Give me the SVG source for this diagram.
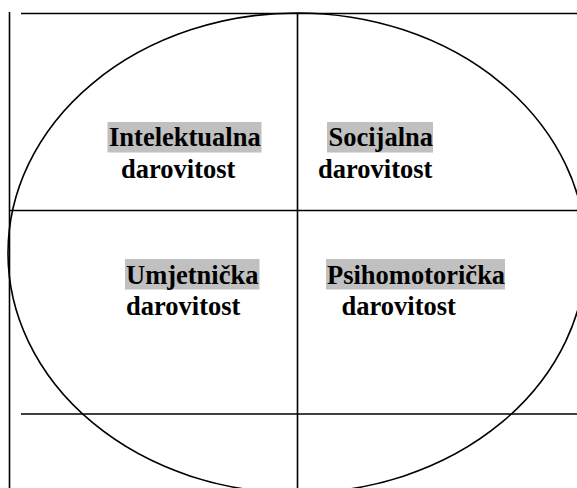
<svg xmlns="http://www.w3.org/2000/svg" width="577" height="488" viewBox="0 0 577 488">
<style>
.ln{stroke:#000;stroke-width:1.6;fill:none}
.hl{fill:#c0c0c0}
.t{font-family:"Liberation Serif","Times New Roman",serif;font-weight:bold;font-size:26.5px;fill:#000}
</style>
<rect width="577" height="488" fill="#fff"/>
<g id="connectors">
<line class="ln" x1="9.5" y1="12" x2="9.5" y2="488"/>
<line class="ln" x1="21" y1="13.5" x2="577" y2="13.5"/>
<line class="ln" x1="297.5" y1="13" x2="297.5" y2="488"/>
<line class="ln" x1="9" y1="210.5" x2="577" y2="210.5"/>
<line class="ln" x1="21" y1="414" x2="577" y2="414"/>
<ellipse class="ln" cx="297" cy="253" rx="289" ry="240"/>
</g>
<g id="intelektualna">
<rect class="hl" x="107.5" y="122" width="154" height="30.5"/>
<text class="t" x="109" y="146">Intelektualna</text>
<text class="t" x="121" y="177.5">darovitost</text>
</g>
<g id="socijalna">
<rect class="hl" x="327" y="122" width="106" height="30.5"/>
<text class="t" x="328.5" y="146">Socijalna</text>
<text class="t" x="318" y="177.5">darovitost</text>
</g>
<g id="umjetnicka">
<rect class="hl" x="125" y="259" width="134.5" height="30.5"/>
<text class="t" x="126" y="283.5">Umjetnička</text>
<text class="t" x="126" y="314.5">darovitost</text>
</g>
<g id="psihomotoricka">
<rect class="hl" x="326" y="259" width="179" height="30.5"/>
<text class="t" x="327" y="283.5">Psihomotorička</text>
<text class="t" x="341.5" y="314.5">darovitost</text>
</g>
</svg>
